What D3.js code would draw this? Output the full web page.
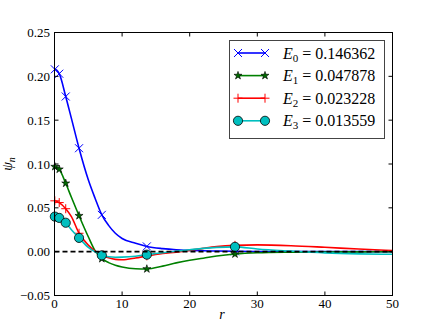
<!DOCTYPE html>
<html>
<head>
<meta charset="utf-8">
<script src="https://cdn.jsdelivr.net/npm/d3@7"></script>
<style>
  body { margin: 0; background: #fff; }
  svg text { font-family: "Liberation Serif", "Times New Roman", serif; }
</style>
</head>
<body>
<svg width="436" height="327"></svg>
<script>
// radial grid (r) and the four wavefunctions
const R = [0, 0.05, 0.7, 1.66, 2.5, 3.63, 5, 6, 7, 8, 9, 10, 12, 13.66, 16, 18, 20, 22, 24, 26.7, 30, 35, 40, 45, 50];
const psi0 = [0.208, 0.208, 0.203, 0.177, 0.152, 0.118, 0.082, 0.061, 0.042, 0.030, 0.021, 0.015, 0.0095, 0.006, 0.0035, 0.0022, 0.0015, 0.001, 0.0007, 0.0004, 0.0002, 0.0001, 0, 0, 0];
const psi1 = [0.097, 0.097, 0.094, 0.078, 0.062, 0.041, 0.017, 0.001, -0.008, -0.0125, -0.0155, -0.0175, -0.0195, -0.0197, -0.0165, -0.0128, -0.0098, -0.0075, -0.005, -0.0027, -0.0013, -0.0006, -0.0003, -0.0002, -0.0001];
const psi2 = [0.058, 0.058, 0.056, 0.049, 0.040, 0.021, 0.0075, 0.0005, -0.004, -0.007, -0.0088, -0.0093, -0.0072, -0.0048, -0.002, -0.0005, 0.0015, 0.0038, 0.0058, 0.0072, 0.0077, 0.0068, 0.005, 0.003, 0.0013];
const psi3 = [0.040, 0.040, 0.0385, 0.033, 0.025, 0.0157, 0.005, -0.0002, -0.0042, -0.0058, -0.0063, -0.0062, -0.0052, -0.0034, -0.0012, 0.0005, 0.0022, 0.0038, 0.0049, 0.0055, 0.003, 0.0006, -0.0014, -0.0025, -0.003];
const energies = [0.146362, 0.047878, 0.023228, 0.013559];
const markerIdx = [1, 2, 3, 5, 8, 13, 19];
const xTicks = [0, 10, 20, 30, 40, 50];
const yTicks = [-0.05, 0, 0.05, 0.10, 0.15, 0.20, 0.25];

const svg = d3.select("svg");
const area = { left: 54.5, right: 392.5, top: 32.5, bottom: 295.5 };

const x = d3.scaleLinear().domain([0, 50]).range([area.left, area.right]);
const y = d3.scaleLinear().domain([-0.05, 0.25]).range([area.bottom, area.top]);

const series = [
    { vals: psi0, color: "#0000ff", marker: "x" },
    { vals: psi1, color: "#008000", marker: "star" },
    { vals: psi2, color: "#ff0000", marker: "plus" },
    { vals: psi3, color: "#00bfbf", marker: "circle" }
];

const drawMarker = (g, type, color) => {
    if (type === "x") {
        g.append("path").attr("d", "M-4,-4L4,4M-4,4L4,-4")
            .attr("stroke", color).attr("stroke-width", 1).attr("fill", "none");
    } else if (type === "plus") {
        g.append("path").attr("d", "M-4.5,0H4.5M0,-4.5V4.5")
            .attr("stroke", color).attr("stroke-width", 1).attr("fill", "none");
    } else if (type === "star") {
        g.append("path").attr("d", d3.symbol(d3.symbolStar, 20)())
            .attr("fill", "#006a00").attr("stroke", "#000").attr("stroke-width", 0.6);
    } else {
        g.append("circle").attr("r", 4.6)
            .attr("fill", color).attr("stroke", "#000").attr("stroke-width", 0.8);
    }
};

const plot = svg.append("g");
plot.append("clipPath").attr("id", "clip").append("rect")
    .attr("x", area.left).attr("y", area.top)
    .attr("width", area.right - area.left).attr("height", area.bottom - area.top);

const line = d3.line()
    .x((d, i) => x(R[i]))
    .y(d => y(d))
    .curve(d3.curveMonotoneX);

series.forEach(s => {
    plot.append("path")
        .attr("d", line(s.vals))
        .attr("clip-path", "url(#clip)")
        .attr("fill", "none")
        .attr("stroke", s.color)
        .attr("stroke-width", 1.6);
    markerIdx.forEach(i => {
        const g = plot.append("g").attr("transform", `translate(${x(R[i])},${y(s.vals[i])})`);
        drawMarker(g, s.marker, s.color);
    });
});

// zero line
plot.append("line")
    .attr("x1", x(0)).attr("x2", x(50))
    .attr("y1", y(0)).attr("y2", y(0))
    .attr("stroke", "#000").attr("stroke-width", 1.6)
    .attr("stroke-dasharray", "5,3");

// frame
svg.append("rect")
    .attr("x", area.left).attr("y", area.top)
    .attr("width", area.right - area.left).attr("height", area.bottom - area.top)
    .attr("fill", "none").attr("stroke", "#000").attr("stroke-width", 1);

// ticks (inward, all four sides)
const tk = 4;
xTicks.forEach(t => {
    svg.append("line").attr("x1", x(t)).attr("x2", x(t)).attr("y1", area.bottom).attr("y2", area.bottom - tk).attr("stroke", "#000");
    svg.append("line").attr("x1", x(t)).attr("x2", x(t)).attr("y1", area.top).attr("y2", area.top + tk).attr("stroke", "#000");
    svg.append("text").attr("x", x(t)).attr("y", 308).attr("text-anchor", "middle")
        .attr("font-size", 13).text(t);
});
yTicks.forEach(t => {
    svg.append("line").attr("y1", y(t)).attr("y2", y(t)).attr("x1", area.left).attr("x2", area.left + tk).attr("stroke", "#000");
    svg.append("line").attr("y1", y(t)).attr("y2", y(t)).attr("x1", area.right).attr("x2", area.right - tk).attr("stroke", "#000");
    svg.append("text").attr("x", 50).attr("y", y(t) + 4.5).attr("text-anchor", "end")
        .attr("font-size", 13).text(d3.format(".2f")(t).replace("-", "\u2212"));
});

// axis labels
svg.append("text").attr("x", 222).attr("y", 319).attr("text-anchor", "middle")
    .attr("font-size", 14).attr("font-style", "italic").text("r");
const yl = svg.append("text").attr("transform", "translate(12,164) rotate(-90)")
    .attr("text-anchor", "middle").attr("font-size", 14);
yl.append("tspan").attr("font-style", "italic").text("\u03c8");
yl.append("tspan").attr("font-style", "italic").attr("font-size", 10).attr("dy", 3).text("n");

// legend
const leg = svg.append("g");
leg.append("rect").attr("x", 229.5).attr("y", 40.5).attr("width", 155).attr("height", 98)
    .attr("fill", "#fff").attr("stroke", "#444").attr("stroke-width", 1);
series.forEach((s, k) => {
    const ry = 53 + k * 22.6;
    leg.append("line").attr("x1", 238).attr("x2", 265).attr("y1", ry).attr("y2", ry)
        .attr("stroke", s.color).attr("stroke-width", 1.6);
    [238, 265].forEach(mx => {
        const g = leg.append("g").attr("transform", `translate(${mx},${ry})`);
        drawMarker(g, s.marker, s.color);
    });
    const tx = leg.append("text").attr("x", 283).attr("y", ry + 5.5).attr("font-size", 16);
    tx.append("tspan").attr("font-style", "italic").text("E");
    tx.append("tspan").attr("font-size", 11).attr("dy", 3).text(k);
    tx.append("tspan").attr("dy", -3).text(" = " + energies[k].toFixed(6));
});
</script>
</body>
</html>
